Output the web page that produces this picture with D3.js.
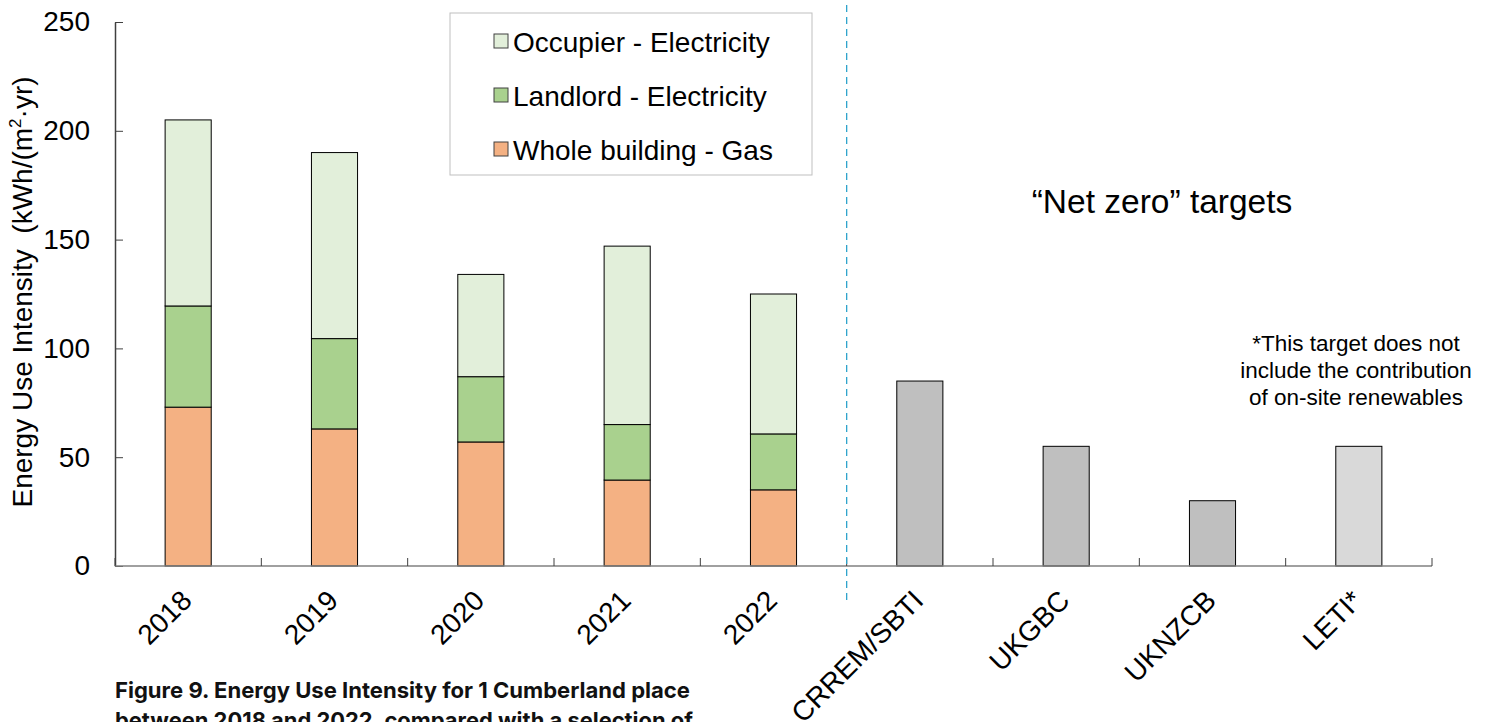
<!DOCTYPE html>
<html><head><meta charset="utf-8">
<script src="https://cdn.jsdelivr.net/npm/d3@7"></script>
<style>
body{margin:0;background:#fff;}
svg{display:block;font-family:"Liberation Sans",Arial,sans-serif;}
</style></head>
<body>
<svg id="c" width="1491" height="722"></svg>
<script>
const categories = ["2018","2019","2020","2021","2022","CRREM/SBTI","UKGBC","UKNZCB","LETI*"];
const years = ["2018","2019","2020","2021","2022"];
const gas = [73, 63, 57, 39.5, 35];
const landlord = [46.5, 41.5, 30, 25.5, 25.7];
const occupier = [85.5, 85.5, 47, 82, 64.3];
const targetNames = ["CRREM/SBTI","UKGBC","UKNZCB","LETI*"];
const targetValues = [85, 55, 30, 55];
const yTicks = [0, 50, 100, 150, 200, 250];
const seriesNames = ["Occupier - Electricity","Landlord - Electricity","Whole building - Gas"];

const svg = d3.select("#c");
const plotL = 115, plotR = 1432, plotT = 22, plotB = 566;
const x = d3.scaleBand().domain(categories).range([plotL, plotR]).paddingInner(0).paddingOuter(0);
const y = d3.scaleLinear().domain([0, 250]).range([plotB, plotT]);
const barW = x.bandwidth() * 0.315;

const colors = {"Whole building - Gas":"#F4B183","Landlord - Electricity":"#A9D18E","Occupier - Electricity":"#E2EFDA"};

const rows = years.map((yr,i)=>({cat:yr, "Whole building - Gas":gas[i], "Landlord - Electricity":landlord[i], "Occupier - Electricity":occupier[i]}));
const stack = d3.stack().keys(["Whole building - Gas","Landlord - Electricity","Occupier - Electricity"]);
const stacked = stack(rows);

const g = svg.append("g");
stacked.forEach(layer=>{
  g.selectAll(null).data(layer).join("rect")
    .attr("x", d=>x(d.data.cat)+x.bandwidth()/2-barW/2)
    .attr("width", barW)
    .attr("y", d=>y(d[1]))
    .attr("height", d=>y(d[0])-y(d[1]))
    .attr("fill", colors[layer.key])
    .attr("stroke", "#000").attr("stroke-width", 1);
});
g.selectAll(null).data(targetNames.map((n,i)=>({n, v:targetValues[i]}))).join("rect")
  .attr("x", d=>x(d.n)+x.bandwidth()/2-barW/2)
  .attr("width", barW)
  .attr("y", d=>y(d.v))
  .attr("height", d=>y(0)-y(d.v))
  .attr("fill", d=>d.n==="LETI*"?"#D9D9D9":"#BFBFBF")
  .attr("stroke","#000").attr("stroke-width",1);

// y axis
const yAxis = d3.axisLeft(y).tickValues(yTicks).tickSize(-8).tickPadding(25).tickSizeOuter(0);
const ya = svg.append("g").attr("transform",`translate(${plotL},0)`).call(yAxis);
ya.select(".domain").attr("stroke","#404040").attr("stroke-width",1.5);
ya.selectAll(".tick line").attr("stroke","#404040");
ya.selectAll("text").attr("font-size",28).attr("fill","#000").attr("font-family","Liberation Sans, Arial, sans-serif");

// x axis line and ticks at boundaries
svg.append("line").attr("x1",plotL).attr("x2",plotR).attr("y1",y(0)).attr("y2",y(0)).attr("stroke","#808080").attr("stroke-width",1.5);
const bounds = categories.map(c=>x(c)).concat([plotR]);
svg.selectAll(null).data(bounds).join("line")
  .attr("x1",d=>d).attr("x2",d=>d).attr("y1",y(0)).attr("y2",y(0)-8)
  .attr("stroke","#404040").attr("stroke-width",1);

// x labels
svg.selectAll(null).data(categories).join("text")
  .attr("transform", d=>`translate(${x(d)+x.bandwidth()/2},${y(0)+31}) rotate(-45)`)
  .attr("text-anchor","end").attr("dominant-baseline","middle")
  .attr("font-size",28).attr("fill","#000")
  .text(d=>d);

// y title
const yt = svg.append("text")
  .attr("transform","translate(32,292) rotate(-90)")
  .attr("text-anchor","middle").attr("font-size",28).attr("fill","#000")
  .style("white-space","pre");
yt.append("tspan").text("Energy Use Intensity  (kWh/(m");
yt.append("tspan").attr("font-size",17).attr("dy",-11).text("2");
yt.append("tspan").attr("dy",11).text("·yr)");

// dashed divider
svg.append("line").attr("x1",x("CRREM/SBTI")).attr("x2",x("CRREM/SBTI")).attr("y1",5).attr("y2",600)
  .attr("stroke","#2EA3CC").attr("stroke-width",1.3).attr("stroke-dasharray","7,5");

// legend
const lg = svg.append("g");
lg.append("rect").attr("x",450).attr("y",13).attr("width",362).attr("height",162)
  .attr("fill","#fff").attr("stroke","#BFBFBF").attr("stroke-width",1);
seriesNames.forEach((s,i)=>{
  const cy = 41 + i*54;
  lg.append("rect").attr("x",494).attr("y",cy-7).attr("width",14).attr("height",14)
    .attr("fill",colors[s]).attr("stroke","#404040").attr("stroke-width",1);
  lg.append("text").attr("x",513).attr("y",cy+1).attr("dominant-baseline","central")
    .attr("font-size",28).attr("fill","#000").text(s);
});

// annotations
svg.append("text").attr("x",1162).attr("y",213).attr("text-anchor","middle")
  .attr("font-size",33.5).attr("fill","#000").text("\u201CNet zero\u201D targets");
const noteLines = ["*This target does not","include the contribution","of on-site renewables"];
svg.selectAll(null).data(noteLines).join("text")
  .attr("x",1356).attr("y",(d,i)=>351+i*27).attr("text-anchor","middle")
  .attr("font-size",22.5).attr("fill","#000").text(d=>d);

// caption
const capLines = ["Figure 9. Energy Use Intensity for 1 Cumberland place","between 2018 and 2022, compared with a selection of"];
svg.selectAll(null).data(capLines).join("text")
  .attr("x",115).attr("y",(d,i)=>698+i*30)
  .attr("font-family","Inter, Roboto, sans-serif").attr("font-weight","bold")
  .attr("font-size",22).attr("fill","#111")
  .attr("textLength",(d,i)=>i===0?575:578).attr("lengthAdjust","spacingAndGlyphs")
  .text(d=>d);
</script>
</body></html>
